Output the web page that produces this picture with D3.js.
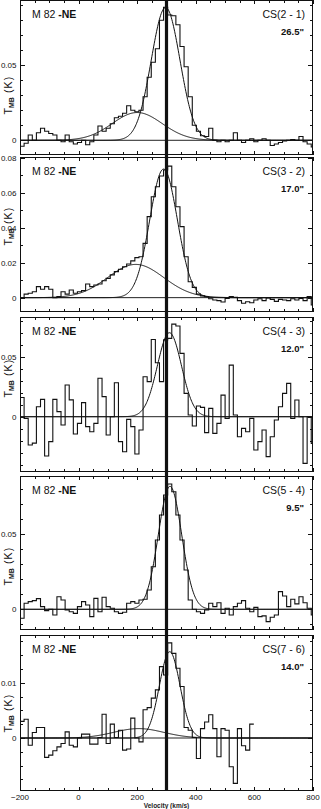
<!DOCTYPE html>
<html>
<head>
<meta charset="utf-8">
<script src="https://cdn.jsdelivr.net/npm/d3@7"></script>
<style>
  html, body { margin: 0; padding: 0; background: #fff; }
  svg { display: block; font-family: "Liberation Sans", Arial, sans-serif; }
</style>
</head>
<body>
<svg width="321" height="809"></svg>
<script>
// velocity grid of the spectra (channel left edges start here)
const velStart = -200
const velStep = 14

// spectra, T_MB (K), one value per channel
const cs21 = [-0.004, -0.002, 0.0035, 0.0, 0.005, 0.008, 0.006, 0.0045, 0.0035, 0.0, -0.001, 0.0035,
  -0.001, -0.0025, -0.0015, 0.0, -0.003, -0.001, 0.0035, 0.0095, 0.006, 0.008, 0.011, 0.015,
  0.016, 0.018, 0.023, 0.020, 0.019, 0.020, 0.029, 0.042, 0.052, 0.061, 0.080, 0.0887,
  0.0835, 0.083, 0.077, 0.0625, 0.049, 0.029, 0.010, 0.006, 0.003, 0.0025, 0.008, 0.0,
  -0.001, 0.0, -0.001, 0.0, 0.005, 0.0, -0.0015, 0.0, 0.001, -0.001, 0.0, 0.001,
  0.0, -0.0035, -0.0025, -0.0015, -0.0005, 0.0, 0.0005, 0.0, 0.0025, -0.001, -0.0025, -0.0045]

const cs32 = [-0.0004, 0.002, 0.0025, 0.0034, 0.0063, 0.0048, 0.0063, 0.0048, 0.0, 0.0006, 0.0034, 0.002,
  0.0044, 0.0025, 0.0034, 0.004, 0.0078, 0.0063, 0.0072, 0.0078, 0.0097, 0.011, 0.013, 0.0149,
  0.0162, 0.0177, 0.0192, 0.021, 0.0229, 0.0234, 0.031, 0.0463, 0.0577, 0.0634, 0.0695, 0.073,
  0.0752, 0.0634, 0.052, 0.0406, 0.0234, 0.0091, 0.0059, 0.002, 0.001, 0.0006, -0.0006, -0.0013,
  -0.0017, -0.0025, -0.0004, 0.0006, 0.0002, -0.0017, -0.0032, -0.0023, -0.0029, -0.0013, -0.0006, -0.0017,
  -0.0002, -0.001, -0.0021, -0.001, -0.0013, -0.0017, -0.0006, -0.0013, -0.0004, -0.0017, 0.0006, -0.0042]

const cs43 = [0.016, -0.0014, -0.0236, -0.022, 0.0083, 0.0144, -0.0328, -0.0208, 0.0144, 0.0042, -0.0069, 0.0264,
  0.014, -0.0144, -0.0056, 0.0117, -0.0083, -0.0125, -0.0056, 0.032, 0.0167, -0.0153, 0.0, 0.0283,
  -0.0208, -0.0292, -0.0022, -0.0083, -0.0311, -0.0111, 0.0333, 0.0292, 0.0644, 0.045, 0.0292, 0.064,
  0.0653, 0.0772, 0.0756, 0.0528, 0.0194, 0.0014, -0.0078, 0.0089, 0.0078, -0.0133, 0.0069, -0.0139,
  -0.0056, 0.018, -0.0014, 0.043, 0.0014, -0.0167, -0.0097, -0.0125, -0.0014, -0.0278, -0.0208, -0.0111,
  -0.0333, -0.0167, -0.0028, 0.0083, 0.0194, 0.0278, -0.0014, 0.0139, 0.0, -0.0389, 0.0, -0.0222]

const cs54 = [-0.006, 0.004, 0.0051, 0.0058, 0.0071, 0.0018, -0.0009, 0.0, -0.0038, 0.0084, 0.0062, -0.0004,
  -0.0016, -0.0027, 0.0018, 0.0051, 0.0029, -0.0049, 0.0073, -0.0016, 0.008, 0.0018, 0.0007, -0.0016,
  -0.0027, -0.002, 0.004, 0.0051, 0.004, 0.0062, 0.0067, 0.0129, 0.0284, 0.0462, 0.0629, 0.0762,
  0.0836, 0.0784, 0.0629, 0.0462, 0.0262, 0.0062, 0.0, -0.0016, -0.0027, -0.0004, 0.004, 0.0018,
  0.0044, -0.0027, 0.0007, -0.0038, 0.0018, 0.004, 0.0058, 0.0007, -0.0016, 0.0013, -0.0049, -0.0044,
  -0.0082, -0.0053, -0.0038, 0.0118, 0.0089, 0.0018, 0.0067, 0.0036, 0.0084, 0.0044, 0.0007, -0.0038]

const cs76 = [0.003, 0.0034, -0.0013, 0.001, 0.0019, 0.0019, -0.0035, -0.0031, -0.0023, -0.0016, -0.001, 0.0011,
  -0.0013, -0.0016, 0.0, 0.0007, 0.0007, -0.0011, -0.0011, 0.0001, 0.0043, -0.001, 0.0025, 0.0001,
  0.0014, -0.0022, -0.002, 0.0036, 0.0, -0.0007, 0.0051, 0.0055, 0.0072, 0.0087, 0.0129, 0.0114,
  0.0172, 0.0153, 0.0126, 0.0093, 0.0019, 0.0014, 0.0001, -0.0037, 0.0017, 0.0029, 0.0042, 0.0017,
  -0.0034, 0.0017, 0.0014, -0.0052, -0.0082, 0.0017, -0.0014, -0.0022, 0.0025]

// gaussian fit components: [amplitude K, centre km/s, FWHM km/s]
const fit21 = [[0.0885, 297, 115], [0.0185, 200, 200]]
const fit32 = [[0.0735, 290, 111], [0.019, 195, 225]]
const fit43 = [[0.070, 310, 97]]
const fit54 = [[0.082, 312, 94]]
const fit76 = [[0.0156, 311, 83], [0.0017, 205, 200]]

const lineNames = ['CS(2 - 1)', 'CS(3 - 2)', 'CS(4 - 3)', 'CS(5 - 4)', 'CS(7 - 6)']
const beams = ['26.5"', '17.0"', '12.0"', '9.5"', '14.0"']
const spectra = [cs21, cs32, cs43, cs54, cs76]
const fits = [fit21, fit32, fit43, fit54, fit76]
const yDomains = [[-0.0098, 0.0935], [-0.0082, 0.0804], [-0.0461, 0.0831], [-0.0138, 0.0889], [-0.00958, 0.01862]]
const yMajor = [0.05, 0.02, 0.05, 0.05, 0.01]
const yMinor = [0.01, 0.01, 0.01, 0.01, 0.0025]
const xTickLabels = [-200, 0, 200, 400, 600, 800]
const systemicVel = 300

// layout
const panelTop = [0, 157, 317, 476, 635]
const panelBottom = [155, 312, 472, 630, 791]
const yLabelCenter = [95, 226, 378, 566, 713]
const left = 20, right = 313

const svg = d3.select('svg')
const x = d3.scaleLinear().domain([-200, 800]).range([left, right])

const gauss = (p, v) => p[0] * Math.exp(-4 * Math.LN2 * (v - p[1]) * (v - p[1]) / (p[2] * p[2]))
const fmt = v => Math.abs(v) < 1e-9 ? '0' : String(+v.toFixed(3))
const fineVel = d3.range(-200, 801, 2)

spectra.forEach((spec, i) => {
  const y = d3.scaleLinear().domain(yDomains[i]).range([panelBottom[i], panelTop[i]])
  const g = svg.append('g')

  const clipId = 'clip' + i
  svg.append('clipPath').attr('id', clipId)
    .append('rect')
    .attr('x', left).attr('y', panelTop[i])
    .attr('width', right - left).attr('height', panelBottom[i] - panelTop[i])

  // zero line
  g.append('line')
    .attr('x1', left).attr('x2', right)
    .attr('y1', y(0)).attr('y2', y(0))
    .attr('stroke', '#222').attr('stroke-width', 1)

  // histogram
  const pts = spec.map((t, k) => [velStart + k * velStep, t])
  pts.push([velStart + spec.length * velStep, spec[spec.length - 1]])
  g.append('path')
    .attr('clip-path', `url(#${clipId})`)
    .attr('d', d3.line().x(d => x(d[0])).y(d => y(d[1])).curve(d3.curveStepAfter)(pts))
    .attr('fill', 'none')
    .attr('stroke', '#111')
    .attr('stroke-width', 1.1)

  // gaussian components
  fits[i].forEach(p => {
    g.append('path')
      .attr('clip-path', `url(#${clipId})`)
      .attr('d', d3.line().x(v => x(v)).y(v => y(gauss(p, v)))(fineVel))
      .attr('fill', 'none')
      .attr('stroke', '#111')
      .attr('stroke-width', 1)
  })

  // frame
  g.append('rect')
    .attr('x', left + 0.5).attr('y', panelTop[i] + 0.5)
    .attr('width', right - left - 1).attr('height', panelBottom[i] - panelTop[i] - 1)
    .attr('fill', 'none').attr('stroke', '#111').attr('stroke-width', 1)

  // x ticks, inward, top and bottom
  d3.range(-200, 801, 50).forEach(v => {
    const len = v % 200 === 0 ? 4 : 3
    const xx = Math.round(x(v)) + 0.5
    g.append('line').attr('x1', xx).attr('x2', xx)
      .attr('y1', panelBottom[i]).attr('y2', panelBottom[i] - len)
      .attr('stroke', '#111')
    g.append('line').attr('x1', xx).attr('x2', xx)
      .attr('y1', panelTop[i]).attr('y2', panelTop[i] + len)
      .attr('stroke', '#111')
  })

  // y ticks, inward, left and right
  const minorTicks = d3.range(Math.ceil(yDomains[i][0] / yMinor[i] - 1e-6), Math.floor(yDomains[i][1] / yMinor[i] + 1e-6) + 1)
    .map(k => k * yMinor[i])
  minorTicks.forEach(t => {
    const isMajor = Math.abs(t / yMajor[i] - Math.round(t / yMajor[i])) < 1e-6
    const len = isMajor ? 5 : 3
    const yy = Math.round(y(t)) + 0.5
    g.append('line').attr('x1', left).attr('x2', left + len)
      .attr('y1', yy).attr('y2', yy).attr('stroke', '#111')
    g.append('line').attr('x1', right).attr('x2', right - len)
      .attr('y1', yy).attr('y2', yy).attr('stroke', '#111')
    if (isMajor && t >= 0) {
      g.append('text')
        .attr('x', 16.5).attr('y', y(t) + 3)
        .attr('text-anchor', 'end')
        .attr('font-size', 8)
        .attr('fill', '#111')
        .text(fmt(t))
    }
  })

  // y axis label
  const yl = g.append('text')
    .attr('transform', `translate(12,${yLabelCenter[i]}) rotate(-90)`)
    .attr('text-anchor', 'middle')
    .attr('font-size', 10.5)
    .attr('fill', '#111')
  yl.append('tspan').text('T')
  yl.append('tspan').attr('font-size', 7).attr('font-weight', 'bold').attr('dy', 2).text('MB')
  yl.append('tspan').attr('dy', -2).attr('letter-spacing', 1.2).text('  (K)')

  // labels
  const src = g.append('text')
    .attr('x', 32).attr('y', panelTop[i] + 18)
    .attr('font-size', 10.5)
    .attr('fill', '#111')
  src.append('tspan').text('M 82 ')
  src.append('tspan').attr('font-weight', 'bold').text('-NE')

  g.append('text')
    .attr('x', 305).attr('y', panelTop[i] + 18)
    .attr('text-anchor', 'end')
    .attr('font-size', 10.5)
    .attr('fill', '#111')
    .text(lineNames[i])

  g.append('text')
    .attr('x', 304).attr('y', panelTop[i] + 35)
    .attr('text-anchor', 'end')
    .attr('font-size', 9.5)
    .attr('font-weight', 'bold')
    .attr('fill', '#111')
    .text(beams[i])
})

// x tick labels on the bottom panel
xTickLabels.forEach(v => {
  svg.append('text')
    .attr('x', x(v)).attr('y', 800)
    .attr('text-anchor', 'middle')
    .attr('font-size', 8)
    .attr('fill', '#111')
    .text(v < 0 ? '\u2212' + Math.abs(v) : v)
})

svg.append('text')
  .attr('x', x(300)).attr('y', 808)
  .attr('text-anchor', 'middle')
  .attr('font-size', 6.5)
  .attr('font-weight', 'bold')
  .attr('fill', '#222')
  .text('Velocity (km/s)')

// systemic velocity marker through all panels
svg.append('line')
  .attr('x1', x(systemicVel)).attr('x2', x(systemicVel))
  .attr('y1', 0).attr('y2', panelBottom[4])
  .attr('stroke', '#111')
  .attr('stroke-width', 3.2)
</script>
</body>
</html>
